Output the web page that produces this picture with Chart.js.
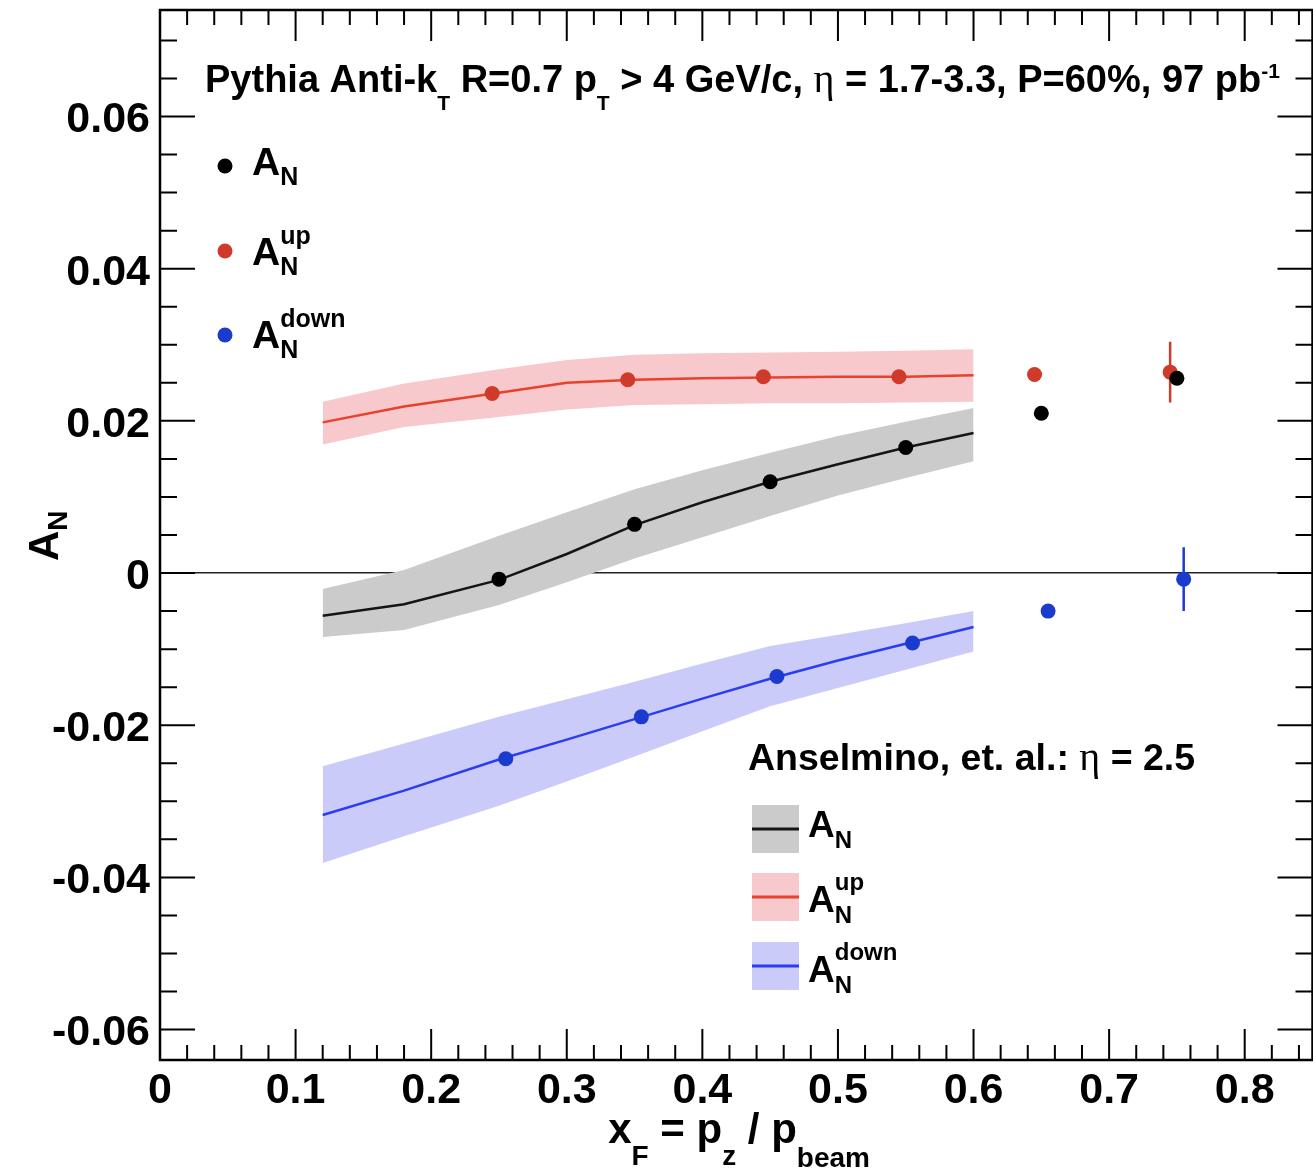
<!DOCTYPE html>
<html>
<head>
<meta charset="utf-8">
<script src="https://cdn.jsdelivr.net/npm/chart.js@4.4.1/dist/chart.umd.min.js"></script>
<style>
html, body { margin: 0; padding: 0; overflow: hidden; background: #fff; }
#wrap { width: 1320px; height: 1173px; }
</style>
</head>
<body>
<div id="wrap"><canvas id="asymChart" width="1320" height="1173"></canvas></div>
<script>
// Pythia projections (points), red/blue points are shifted slightly in x
const pyX = [0.25, 0.35, 0.45, 0.55, 0.65, 0.75];
const pyAN = [-0.0008, 0.0064, 0.0120, 0.0165, 0.0210, 0.0256];
const pyUpX = [0.245, 0.345, 0.445, 0.545, 0.645, 0.745];
const pyUp = [0.0236, 0.0254, 0.0258, 0.0258, 0.0261, 0.0264];
const pyUpErr = [0, 0, 0, 0, 0, 0.0040];
const pyDownX = [0.255, 0.355, 0.455, 0.555, 0.655, 0.755];
const pyDown = [-0.0244, -0.0189, -0.0136, -0.0092, -0.0050, -0.0008];
const pyDownErr = [0, 0, 0, 0, 0, 0.0042];

// Anselmino et al. curves + bands
const thX = [0.12, 0.18, 0.25, 0.30, 0.35, 0.40, 0.45, 0.50, 0.55, 0.60];
const thAN = [-0.0056, -0.0041, -0.0009, 0.0025, 0.0063, 0.0093, 0.0120, 0.0143, 0.0165, 0.0184];
const thANhi = [-0.0021, 0.0004, 0.0049, 0.0080, 0.0110, 0.0135, 0.0158, 0.0180, 0.0199, 0.0217];
const thANlo = [-0.0084, -0.0075, -0.0042, -0.0012, 0.0019, 0.0047, 0.0075, 0.0102, 0.0125, 0.0147];
const thUp = [0.0198, 0.0219, 0.0237, 0.0250, 0.0254, 0.0256, 0.0257, 0.0258, 0.0258, 0.0260];
const thUpHi = [0.0225, 0.0249, 0.0268, 0.0280, 0.0287, 0.0289, 0.0290, 0.0291, 0.0292, 0.0294];
const thUpLo = [0.0169, 0.0192, 0.0205, 0.0215, 0.0221, 0.0222, 0.0223, 0.0223, 0.0224, 0.0225];
const thDown = [-0.0318, -0.0286, -0.0245, -0.0219, -0.0192, -0.0165, -0.0139, -0.0115, -0.0093, -0.0071];
const thDownHi = [-0.0254, -0.0224, -0.0189, -0.0166, -0.0143, -0.0119, -0.0096, -0.0081, -0.0066, -0.0050];
const thDownLo = [-0.0381, -0.0346, -0.0306, -0.0274, -0.0241, -0.0208, -0.0175, -0.0151, -0.0127, -0.0103];

const xTicks = [0, 0.1, 0.2, 0.3, 0.4, 0.5, 0.6, 0.7, 0.8];
const xTickLabels = ['0', '0.1', '0.2', '0.3', '0.4', '0.5', '0.6', '0.7', '0.8'];
const yTicks = [-0.06, -0.04, -0.02, 0, 0.02, 0.04, 0.06];
const yTickLabels = ['-0.06', '-0.04', '-0.02', '0', '0.02', '0.04', '0.06'];

const SANS = '"Liberation Sans", Arial, Helvetica, sans-serif';
const SERIF = '"Liberation Serif", "DejaVu Serif", serif';

const COL = {
    black: '#000000', red: '#cf3a2b', blue: '#1b3bcf',
    redLine: '#e8412c', blueLine: '#2b3df2', blackLine: '#151515',
    grayBand: '#cbcbcb', redBand: '#f7c9cc', blueBand: '#cbcbfa'
};

const pts = (xs, ys) => xs.map((x, i) => ({ x: x, y: ys[i] }));

function markers(xs, ys, color) {
    return { data: pts(xs, ys), showLine: false, pointRadius: 7.5, pointBackgroundColor: color, pointBorderWidth: 0, order: 0 };
}
function curve(ys, color) {
    return { data: pts(thX, ys), borderColor: color, borderWidth: 2.5, pointRadius: 0, tension: 0, fill: false, order: 2 };
}
function bandEdge(ys, color, fillNext) {
    return { data: pts(thX, ys), borderWidth: 0, borderColor: 'rgba(0,0,0,0)', backgroundColor: color, pointRadius: 0, tension: 0, fill: fillNext ? '+1' : false, order: 3 };
}
function errBars(xs, ys, es, color) {
    const out = [];
    xs.forEach((x, i) => {
        if (!es[i]) return;
        out.push({ data: [{ x: x, y: ys[i] - es[i] }, { x: x, y: ys[i] + es[i] }], borderColor: color, borderWidth: 2.5, pointRadius: 0, fill: false, order: 1 });
    });
    return out;
}

const datasets = [
    markers(pyX, pyAN, COL.black),
    markers(pyUpX, pyUp, COL.red),
    markers(pyDownX, pyDown, COL.blue),
    ...errBars(pyUpX, pyUp, pyUpErr, COL.red),
    ...errBars(pyDownX, pyDown, pyDownErr, COL.blue),
    curve(thAN, COL.blackLine),
    curve(thUp, COL.redLine),
    curve(thDown, COL.blueLine),
    bandEdge(thANhi, COL.grayBand, true), bandEdge(thANlo, COL.grayBand, false),
    bandEdge(thUpHi, COL.redBand, true), bandEdge(thUpLo, COL.redBand, false),
    bandEdge(thDownHi, COL.blueBand, true), bandEdge(thDownLo, COL.blueBand, false)
];

function font(s, w, f) { return (w || 'bold') + ' ' + s + 'px ' + (f || SANS); }

// draws text runs with sub/superscripts, returns width
function richText(ctx, x, y, parts, draw) {
    let cx = x;
    ctx.textBaseline = 'alphabetic';
    ctx.textAlign = 'left';
    for (const p of parts) {
        ctx.font = font(p.s, p.w, p.f);
        if (p.sub !== undefined || p.sup !== undefined) {
            let w = 0;
            if (p.sub) { if (draw) ctx.fillText(p.sub, cx, y + p.subDy); w = Math.max(w, ctx.measureText(p.sub).width); }
            if (p.sup) { if (draw) ctx.fillText(p.sup, cx, y + p.supDy); w = Math.max(w, ctx.measureText(p.sup).width); }
            cx += w;
        } else {
            if (draw) ctx.fillText(p.t, cx, y + (p.dy || 0));
            cx += ctx.measureText(p.t).width;
        }
    }
    return cx - x;
}

const decor = {
    id: 'decor',
    afterDraw(chart) {
        const { ctx, chartArea: a, scales: { x, y } } = chart;
        ctx.save();
        ctx.strokeStyle = '#000';
        ctx.fillStyle = '#000';

        // frame
        ctx.lineWidth = 2.5;
        ctx.strokeRect(a.left, a.top, a.right - a.left, a.bottom - a.top);

        // inward ticks on all four sides
        ctx.lineWidth = 2;
        ctx.beginPath();
        for (let i = 0; i * 0.02 <= 0.85 + 1e-9; i++) {
            const px = x.getPixelForValue(i * 0.02);
            const len = i % 5 === 0 ? 31 : 15;
            ctx.moveTo(px, a.bottom); ctx.lineTo(px, a.bottom - len);
            ctx.moveTo(px, a.top); ctx.lineTo(px, a.top + len);
        }
        for (let i = -12; i <= 14; i++) {
            const py = y.getPixelForValue(i * 0.005);
            const len = i % 4 === 0 ? 35 : 17;
            ctx.moveTo(a.left, py); ctx.lineTo(a.left + len, py);
            ctx.moveTo(a.right, py); ctx.lineTo(a.right - len, py);
        }
        ctx.stroke();

        // header
        richText(ctx, 205, 92, [
            { t: 'Pythia Anti-k', s: 38 }, { sub: 'T', s: 21, subDy: 18 },
            { t: ' R=0.7 p', s: 38 }, { sub: 'T', s: 21, subDy: 18 },
            { t: ' > 4 GeV/c, ', s: 38 }, { t: 'η', s: 40, w: 'normal', f: SERIF },
            { t: ' = 1.7-3.3, P=60%, 97 pb', s: 38 }, { sup: '-1', s: 21, supDy: -14 }
        ], true);

        // Pythia legend (top left)
        const pyLeg = [
            { c: COL.black, my: 166, by: 175, sup: null },
            { c: COL.red, my: 251, by: 265, sup: 'up' },
            { c: COL.blue, my: 335, by: 348, sup: 'down' }
        ];
        pyLeg.forEach(e => {
            ctx.fillStyle = e.c;
            ctx.beginPath(); ctx.arc(225, e.my, 7.5, 0, Math.PI * 2); ctx.fill();
            ctx.fillStyle = '#000';
            richText(ctx, 252, e.by, [{ t: 'A', s: 39 }, { sub: 'N', sup: e.sup || undefined, s: 25, subDy: 10, supDy: -21 }], true);
        });

        // Anselmino legend
        richText(ctx, 748, 770, [
            { t: 'Anselmino, et. al.: ', s: 37.5 }, { t: 'η', s: 40, w: 'normal', f: SERIF }, { t: ' = 2.5', s: 37.5 }
        ], true);
        const thLeg = [
            { band: COL.grayBand, line: COL.blackLine, top: 805, by: 837, sup: null },
            { band: COL.redBand, line: COL.redLine, top: 873, by: 912, sup: 'up' },
            { band: COL.blueBand, line: COL.blueLine, top: 942, by: 982, sup: 'down' }
        ];
        thLeg.forEach(e => {
            ctx.fillStyle = e.band;
            ctx.fillRect(752, e.top, 47, 48);
            ctx.strokeStyle = e.line; ctx.lineWidth = 3;
            ctx.beginPath(); ctx.moveTo(752, e.top + 24); ctx.lineTo(799, e.top + 24); ctx.stroke();
            ctx.fillStyle = '#000';
            richText(ctx, 808, e.by, [{ t: 'A', s: 37 }, { sub: 'N', sup: e.sup || undefined, s: 24, subDy: 11, supDy: -22 }], true);
        });

        // x axis title, right aligned
        const xTitle = [
            { t: 'x', s: 42 }, { sub: 'F', s: 28, subDy: 22 },
            { t: ' = p', s: 42 }, { sub: 'z', s: 28, subDy: 22 },
            { t: ' / p', s: 42 }, { sub: 'beam', s: 28, subDy: 24 }
        ];
        const w = richText(ctx, 0, 0, xTitle, false);
        richText(ctx, 870 - w, 1143, xTitle, true);

        // y axis title
        ctx.save();
        ctx.translate(58, 561);
        ctx.rotate(-Math.PI / 2);
        richText(ctx, 0, 0, [{ t: 'A', s: 42 }, { sub: 'N', s: 28, subDy: 9 }], true);
        ctx.restore();

        ctx.restore();
    }
};

const ctx = document.getElementById('asymChart').getContext('2d');
const asymChart = new Chart(ctx, {
    type: 'line',
    data: { datasets: datasets },
    options: {
        responsive: false,
        animation: false,
        events: [],
        layout: { padding: { left: 0, right: 4, top: 10, bottom: 0 } },
        plugins: { legend: { display: false }, tooltip: { enabled: false } },
        scales: {
            x: {
                type: 'linear', min: 0, max: 0.85,
                afterBuildTicks: s => { s.ticks = xTicks.map(v => ({ value: v })); },
                afterFit: s => { s.height = 113; s.paddingLeft = 0; s.paddingRight = 0; },
                grid: { display: false, drawTicks: false },
                border: { display: false },
                ticks: {
                    callback: (v, i) => xTickLabels[i],
                    font: { family: SANS, size: 43, weight: 'bold' },
                    color: '#000', padding: 5, maxRotation: 0, autoSkip: false
                }
            },
            y: {
                type: 'linear', min: -0.064, max: 0.074,
                afterBuildTicks: s => { s.ticks = yTicks.map(v => ({ value: v })); },
                afterFit: s => { s.width = 160; s.paddingTop = 0; s.paddingBottom = 0; },
                grid: {
                    drawTicks: false,
                    color: c => (c.tick && c.tick.value === 0 ? '#222' : 'rgba(0,0,0,0)'),
                    lineWidth: 1.5
                },
                border: { display: false },
                ticks: {
                    callback: (v, i) => yTickLabels[i],
                    font: { family: SANS, size: 43, weight: 'bold' },
                    color: '#000', padding: 10, autoSkip: false, labelOffset: 4
                }
            }
        }
    },
    plugins: [decor]
});
</script>
</body>
</html>
